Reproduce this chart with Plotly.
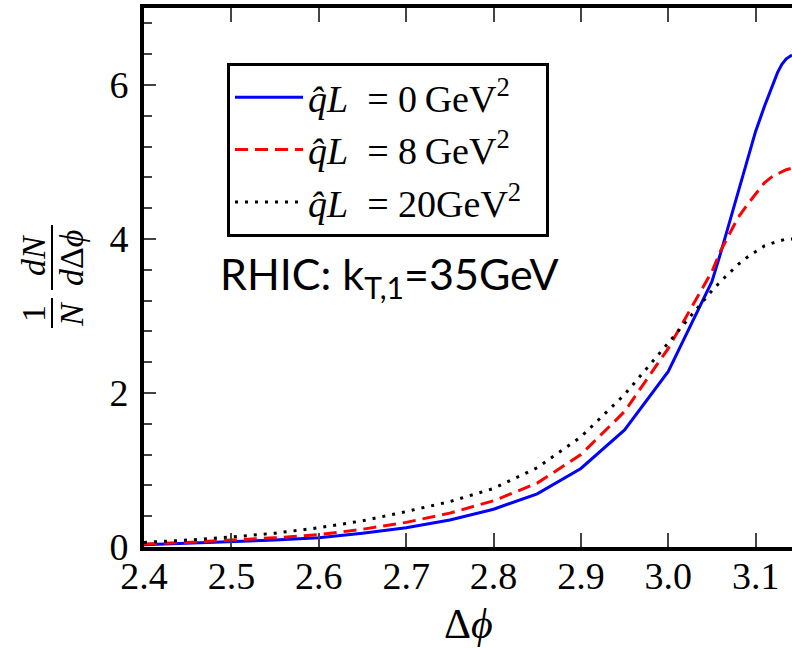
import plotly.graph_objects as go

# ---- data ----
dphi = [2.40, 2.45, 2.50, 2.55, 2.60, 2.65, 2.70, 2.75, 2.80, 2.85, 2.90, 2.95,
        3.00, 3.05, 3.06, 3.07, 3.08, 3.09, 3.10, 3.11, 3.12, 3.125, 3.13,
        3.135, 3.1416]
qL0 = [0.03, 0.05, 0.07, 0.09, 0.12, 0.18, 0.25, 0.35, 0.49, 0.69, 1.02, 1.52,
       2.28, 3.45, 3.82, 4.22, 4.60, 4.99, 5.40, 5.72, 6.03, 6.16, 6.27,
       6.34, 6.39]
qL8 = [0.04, 0.06, 0.09, 0.12, 0.16, 0.23, 0.32, 0.44, 0.60, 0.83, 1.20, 1.76,
       2.58, 3.58, 3.85, 4.07, 4.28, 4.44, 4.59, 4.73, 4.82, 4.85, 4.88,
       4.90, 4.92]
qL20 = [0.06, 0.09, 0.13, 0.18, 0.25, 0.34, 0.46, 0.59, 0.76, 1.03, 1.43, 1.98,
        2.65, 3.33, 3.45, 3.56, 3.67, 3.76, 3.84, 3.91, 3.95, 3.97, 3.99,
        4.00, 4.00]

NB = "\u00a0"
series_names = [f"<i>q̂L</i>{NB} = 0\u2009GeV<sup>2</sup>{NB}{NB}",
                f"<i>q̂L</i>{NB} = 8\u2009GeV<sup>2</sup>{NB}{NB}",
                f"<i>q̂L</i>{NB} = 20GeV<sup>2</sup>{NB}{NB}"]
x_ticks = [2.4, 2.5, 2.6, 2.7, 2.8, 2.9, 3.0, 3.1]
y_ticks = [0, 2, 4, 6]

SERIF = "Liberation Serif, DejaVu Serif, serif"
W, H = 792, 648
L, R, T, B = 144, 0, 8, 101
PW, PH = W - L - R, H - T - B

def px(xp):
    return (xp - L) / PW

def py(yp):
    return (H - B - yp) / PH

fig = go.Figure()
styles = [dict(color="#0000ff", width=3, dash="solid"),
          dict(color="#ff0000", width=3, dash="13px,7px"),
          dict(color="#000000", width=3, dash="3px,7px")]
for i, (ys, nm) in enumerate(zip([qL0, qL8, qL20], series_names)):
    fig.add_trace(go.Scatter(x=dphi, y=ys, mode="lines", name=nm,
                             line=styles[i], legendgroup=f"g{i}",
                             showlegend=True))

fig.update_layout(
    width=W, height=H,
    margin=dict(l=L, r=R, t=T, b=B, pad=0),
    paper_bgcolor="white", plot_bgcolor="white",
    showlegend=True,
    legend=dict(x=px(227), y=py(63), xanchor="left", yanchor="top",
                bordercolor="black", borderwidth=3, bgcolor="white",
                font=dict(family=SERIF, size=38, color="black"),
                itemwidth=68, tracegroupgap=0, traceorder="grouped"),
    xaxis=dict(range=[2.4, 3.14159265], tickvals=x_ticks,
               ticktext=[f"{v:.1f}" for v in x_ticks],
               showline=True, linecolor="black", linewidth=4,
               mirror="ticks", ticks="inside", ticklen=14, tickwidth=2,
               tickcolor="#444", showgrid=False, zeroline=False,
               ticklabelstandoff=-8,
               tickfont=dict(family=SERIF, size=38, color="black")),
    yaxis=dict(range=[0, 7], tickvals=y_ticks,
               showline=True, linecolor="black", linewidth=4,
               mirror=False, ticks="inside", ticklen=12, tickwidth=2,
               tickcolor="#444", showgrid=False, zeroline=False,
               ticklabelstandoff=4,
               minor=dict(dtick=0.4, tick0=0, ticks="inside", ticklen=8,
                          tickwidth=2, tickcolor="#444", showgrid=False),
               tickfont=dict(family=SERIF, size=38, color="black")),
    yaxis2=dict(range=[0, 7], overlaying="y", side="right", anchor="x",
                tickvals=y_ticks, showticklabels=False, showline=False,
                ticks="inside", ticklen=12, tickwidth=2, tickcolor="#444",
                showgrid=False, zeroline=False,
                minor=dict(dtick=0.4, tick0=0, ticks="inside", ticklen=8,
                           tickwidth=2, tickcolor="#444", showgrid=False)),
)

# x-axis title
fig.add_annotation(text="Δ<i>ϕ</i>", x=0.5, y=py(624), xref="paper", yref="paper",
                   showarrow=False, xanchor="center", yanchor="middle",
                   font=dict(family=SERIF, size=42, color="black"))

# y-axis title as rotated fractions: 1/N and dN/dΔϕ
for txt, xp, yp in [("1", 33, 313), ("<i>N</i>", 71, 314),
                    ("<i>dN</i>", 33, 255), ("<i>d</i>Δ<i>ϕ</i>", 71, 258)]:
    fig.add_annotation(text=txt, x=px(xp), y=py(yp), xref="paper",
                       yref="paper", showarrow=False, textangle=-90,
                       xanchor="center", yanchor="middle",
                       font=dict(family=SERIF, size=34, color="black"))
for (y0, y1) in [(298, 328), (225, 290)]:
    fig.add_shape(type="line", xref="paper", yref="paper",
                  x0=px(52), x1=px(52), y0=py(y0), y1=py(y1),
                  line=dict(color="black", width=2))

# RHIC label
fig.add_annotation(text="RHIC: k<sub>T,1</sub>=35GeV", x=px(389), y=py(276),
                   xref="paper", yref="paper", showarrow=False,
                   xanchor="center", yanchor="middle",
                   font=dict(family="Lato", size=43, color="black"))

fig.write_html("out.html")
